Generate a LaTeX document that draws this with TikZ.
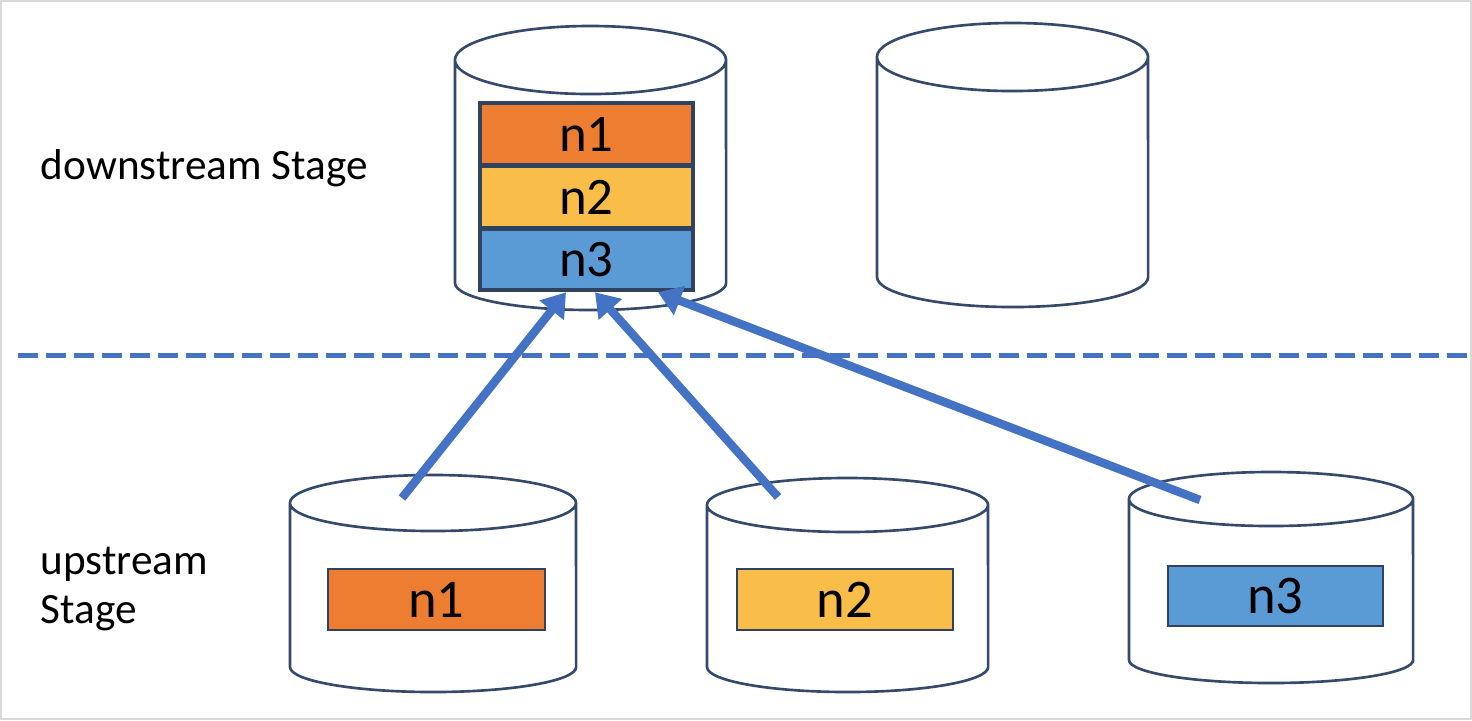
\documentclass[tikz,border=0pt]{standalone}
\usepackage{fontspec}
\setmainfont{Carlito}
\usetikzlibrary{arrows.meta, positioning, calc}
\definecolor{slotorange}{HTML}{ED7D31}
\definecolor{slotyellow}{HTML}{F9BE4A}
\definecolor{slotblue}{HTML}{5B9BD5}
\definecolor{flowblue}{HTML}{4472C4}
\definecolor{rim}{HTML}{34496B}

\begin{document}
\begin{tikzpicture}[
  x=0.01cm, y=-0.01cm,
  drum/.style={draw=rim, line width=0.75pt, fill=white},
  slot/.style={rectangle, draw=rim!90!black, line width=0.7pt,
    minimum width=2.14cm, inner sep=0pt, font=\fontsize{15.5}{18}\selectfont},
  stack/.style={slot, line width=1.3pt, minimum width=2.13cm,
    font=\fontsize{15}{18}\selectfont},
  flow/.style={draw=flowblue, line width=2.4pt,
    -{Triangle[length=0.23cm, width=0.3cm]}},
  stage/.style={align=left, anchor=west, inner sep=0pt,
    font=\fontsize{12.3}{14.2}\selectfont}
]
  \useasboundingbox (0,0) rectangle (1472,720);
  \draw[gray!30, line width=0.02cm] (1,1) rectangle (1471,719);

  % cylinders: centre x / top y / top radius / bottom y / bottom radius / x radius
  \foreach \cx/\ty/\rt/\by/\rb/\rx in {590.5/60/34/283/27/135.5,
      1012.5/57/34/277/30/135.5, 433/503/28/667/25/143,
      847.5/505/27/667/25/140.5, 1271/499/27/660/23/142}
    \path[drum] (\cx-\rx,\ty) -- (\cx-\rx,\by) arc (180:360:\rx cm/100 and \rb cm/100)
      -- (\cx+\rx,\ty) (\cx,\ty) ellipse [x radius=\rx cm/100, y radius=\rt cm/100];

  \node[stage] (down) at (40,168) {downstream Stage};
  \node[stage] (up) at (40,589) {upstream\\Stage};

  \draw[flowblue, line width=0.05cm, dash pattern=on 0.2cm off 0.08cm]
    (18,355) -- (1472,355);

  % downstream slots
  \node[stack, fill=slotorange, minimum height=0.625cm] (dn1) at (586.5,134.25) {n1};
  \node[stack, fill=slotyellow, minimum height=0.63cm] (dn2) at (586.5,197) {n2};
  \node[stack, fill=slotblue, minimum height=0.615cm] (dn3) at (586.5,259.25) {n3};

  % upstream slots
  \node[slot, fill=slotorange, minimum width=2.17cm, minimum height=0.61cm]
    (un1) at (436.5,599.5) {n1};
  \node[slot, fill=slotyellow, minimum width=2.16cm, minimum height=0.61cm]
    (un2) at (845,599.5) {n2};
  \node[slot, fill=slotblue, minimum width=2.15cm, minimum height=0.6cm]
    (un3) at (1275.5,596) {n3};

  \coordinate (s1) at (402,498);
  \coordinate (s2) at (778,497);
  \coordinate (s3) at (1200,500);

  \draw[flow] (s1) -- ([xshift=-0.205cm]dn3.south);
  \draw[flow] (s2) -- ([xshift=0.085cm]dn3.south);
  \draw[flow] (s3) -- ([xshift=0.715cm]dn3.south);
\end{tikzpicture}
\end{document}
